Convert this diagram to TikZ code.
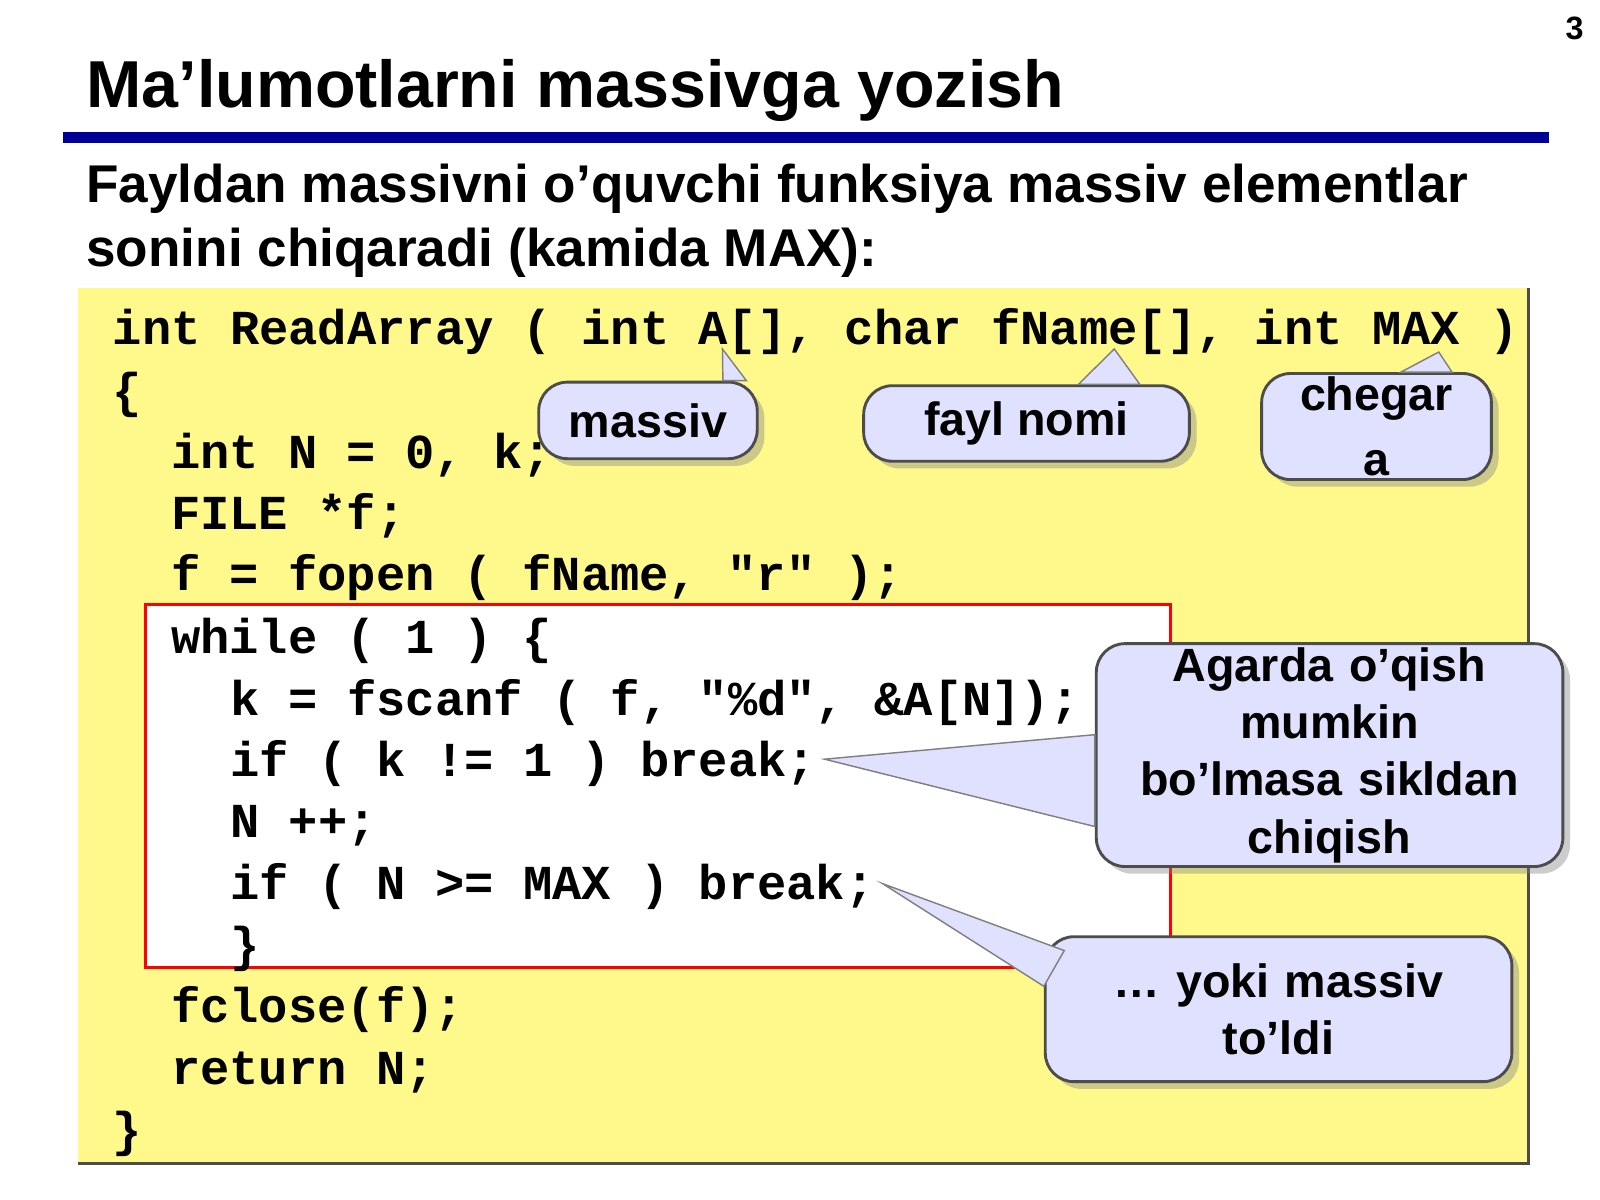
\documentclass[tikz,border=0pt]{standalone}
\usepackage{fontspec}
\setmainfont{Liberation Sans}
\setmonofont{Liberation Mono}
\usetikzlibrary{positioning,shadows}

\tikzset{
  code/.style={anchor=base west, inner sep=0pt, font=\fontsize{13.6}{16}\selectfont\ttfamily\bfseries},
  note/.style={draw=black!70, fill=blue!12, rounded corners=8pt, thick, align=center, inner sep=1pt,
    font=\fontsize{13}{16}\selectfont\bfseries, drop shadow={shadow xshift=2pt, shadow yshift=-2pt, opacity=.4}},
  beak/.style={fill=blue!12, draw=black!50, thin}
}

\begin{document}
\begin{tikzpicture}[x=0.01cm, y=-0.01cm]
            \useasboundingbox (0,0) rectangle (1568,1176);
            % heading
            \node[anchor=base west, inner sep=0pt, font=\fontsize{18.5}{22}\selectfont\bfseries] (title) at (84,105) {Ma’lumotlarni massivga yozish};
            \node[font=\fontsize{9}{10}\selectfont\bfseries] (page) at (1543,28) {3};
            \draw[line width=3pt, blue!60!black] (62,135) -- (1518,135);
            \node[anchor=north west, inner sep=0pt, align=left, font=\fontsize{14.8}{17.8}\selectfont\bfseries] (intro) at (84,160)
              {Fayldan massivni o’quvchi funksiya massiv elementlar\\sonini chiqaradi (kamida MAX):};

            % boxes
            \fill[yellow!45] (76,282) rectangle (1498,1140);
            \draw[black!70, thick] (76,1140) -- (1498,1140) -- (1498,282);
            \draw[red, thick, fill=white] (143,592) rectangle (1147,948);

            % code
            \node[code] (l1) at (110,338) {int ReadArray ( int A[], char fName[], int MAX )};
            \node[code] (l2) at (110,399) {\{};
            \node[code] (l3) at (167,459) {int N = 0, k;};
            \node[code] (l4) at (167,519) {FILE *f;};
            \node[code] (l5) at (167,579) {f = fopen ( fName, "r" );};
            \node[code] (l6) at (167,640) {while ( 1 ) \{};
            \node[code] (l7) at (225,701) {k = fscanf ( f, "\%d", \&A[N]);};
            \node[code] (l8) at (225,761) {if ( k != 1 ) break;};
            \node[code] (l9) at (225,821) {N ++;};
            \node[code] (l10) at (225,882) {if ( N >= MAX ) break;};
            \node[code] (l11) at (225,942) {\}};
            \node[code] (l12) at (167,1002) {fclose(f);};
            \node[code] (l13) at (167,1063) {return N;};
            \node[code] (l14) at (110,1124) {\}};

            % callouts
            \coordinate (tA) at (708,342);
            \coordinate (tF) at (1092,342);
            \coordinate (tM) at (1410,345);
            \coordinate (tK) at (808,744);
            \coordinate (tN) at (865,866);

            \node[note, minimum width=2.14cm, minimum height=0.75cm] (massiv) at (635,412) {massiv};
            \node[note, minimum width=3.19cm, minimum height=0.74cm] (fayl) at (1006,415) {fayl nomi};
            \node[note, minimum width=2.25cm, minimum height=0.77cm, text width=2.0cm] (chegara) at (1349,418) {chegar\\[2pt]a};
            \node[note, minimum width=4.57cm, minimum height=2.07cm, text width=4.3cm] (agarda) at (1303,740) {Agarda o’qish\\mumkin\\bo’lmasa sikldan\\chiqish};
            \node[note, minimum width=4.57cm, minimum height=1.42cm, text width=4.3cm] (yoki) at (1253,989) {… yoki massiv\\to’ldi};

            \fill[beak] (tA) -- ([xshift=-0.35cm]massiv.north east) -- ([xshift=-0.12cm]massiv.north east) -- cycle;
            \fill[beak] (tF) -- ([xshift=-1.1cm]fayl.north east) -- ([xshift=-0.5cm]fayl.north east) -- cycle;
            \fill[beak] (tM) -- ([xshift=-0.9cm]chegara.north east) -- ([xshift=-0.4cm]chegara.north east) -- cycle;
            \fill[beak] (tK) -- ([yshift=-0.7cm]agarda.west) -- ([yshift=0.2cm]agarda.west) -- cycle;
            \fill[beak] (tN) -- ([yshift=-0.5cm]yoki.north west) -- ([xshift=0.2cm,yshift=-0.15cm]yoki.north west) -- cycle;
        \end{tikzpicture}
\end{document}
